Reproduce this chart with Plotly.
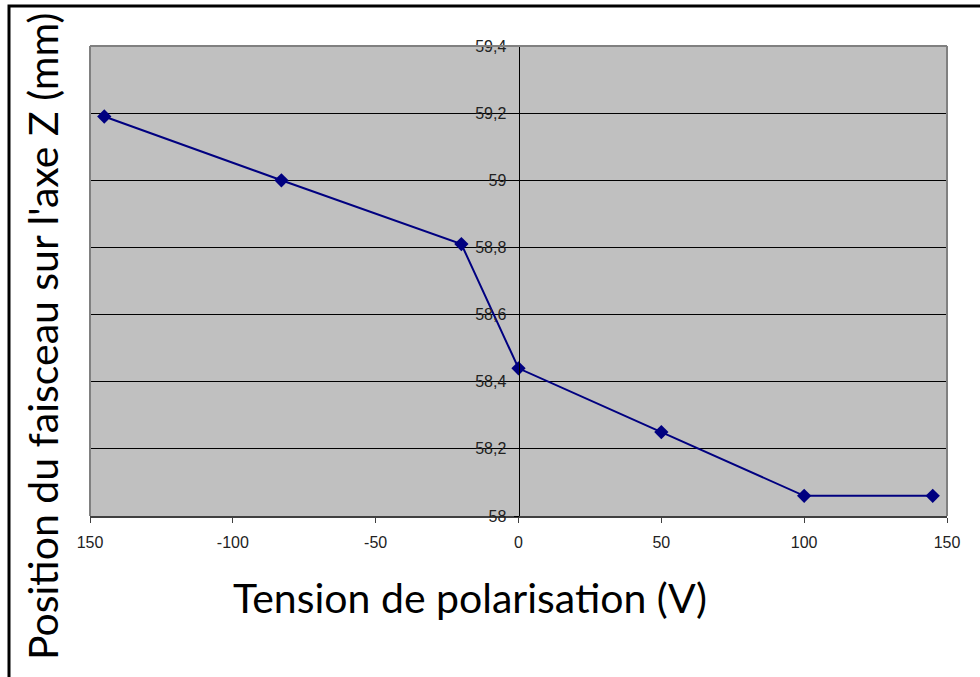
import plotly.graph_objects as go

# Beam position along Z versus bias voltage
tension_v = [-145, -83, -20, 0, 50, 100, 145]
position_mm = [59.19, 59.00, 58.81, 58.44, 58.25, 58.06, 58.06]

x_tick_vals = [-150, -100, -50, 0, 50, 100, 150]
x_tick_text = ["150", "-100", "-50", "0", "50", "100", "150"]
y_tick_vals = [58.0, 58.2, 58.4, 58.6, 58.8, 59.0, 59.2, 59.4]
y_tick_text = ["58", "58,2", "58,4", "58,6", "58,8", "59", "59,2", "59,4"]

W, H = 980, 677
L, R, T, B = 90, 33, 46, 161
pw, ph = W - L - R, H - T - B


def px_x(p):
    return (p - L) / pw


def px_y(p):
    return (H - B - p) / ph


navy = "#000080"
tick_font = dict(family="Liberation Sans, Arial, sans-serif", size=16, color="#222222")
title_font = dict(family="Lato, Open Sans, sans-serif", size=41, color="#000000")

fig = go.Figure()
fig.add_trace(go.Scatter(
    x=tension_v, y=position_mm,
    mode="lines+markers",
    line=dict(color=navy, width=2),
    marker=dict(symbol="diamond", size=11, color=navy),
    showlegend=False,
    hoverinfo="x+y",
))

fig.update_layout(
    width=W, height=H,
    margin=dict(l=L, r=R, t=T, b=B),
    paper_bgcolor="white",
    plot_bgcolor="#C0C0C0",
    separators=", ",
    xaxis=dict(
        range=[-150, 150],
        tickvals=x_tick_vals, ticktext=x_tick_text,
        tickfont=tick_font,
        showgrid=False, zeroline=False,
        showline=True, linecolor="#404040", linewidth=2,
        ticks="outside", ticklen=5, tickcolor="#404040",
        ticklabelstandoff=6,
    ),
    yaxis=dict(
        range=[58.0, 59.4],
        tickvals=y_tick_vals, ticktext=y_tick_text,
        tickfont=tick_font,
        anchor="free", position=0.5,
        showgrid=True, gridcolor="#000000", gridwidth=1,
        zeroline=False,
        showline=True, linecolor="#000000", linewidth=1,
        ticks="outside", ticklen=5, tickcolor="#000000",
        ticklabelstandoff=4,
    ),
    shapes=[
        # plot-area frame (top, left, right)
        dict(type="line", xref="paper", yref="paper", x0=0, x1=1, y0=1, y1=1,
             line=dict(color="#808080", width=2), layer="above"),
        dict(type="line", xref="paper", yref="paper", x0=0, x1=0, y0=0, y1=1,
             line=dict(color="#808080", width=2), layer="above"),
        dict(type="line", xref="paper", yref="paper", x0=1, x1=1, y0=0, y1=1,
             line=dict(color="#808080", width=2), layer="above"),
        # outer chart border
        dict(type="rect", xref="paper", yref="paper",
             x0=px_x(9), x1=px_x(1000), y0=px_y(700), y1=px_y(6),
             line=dict(color="#000000", width=3), layer="above"),
    ],
    annotations=[
        dict(text="Tension de polarisation (V)", xref="paper", yref="paper",
             x=px_x(470), y=px_y(597), xanchor="center", yanchor="middle",
             showarrow=False, font=title_font),
        dict(text="Position du faisceau sur l'axe Z (mm)", xref="paper", yref="paper",
             x=px_x(42), y=px_y(337), xanchor="center", yanchor="middle",
             textangle=-90, showarrow=False, font=title_font),
    ],
)

fig.write_html("out.html")
